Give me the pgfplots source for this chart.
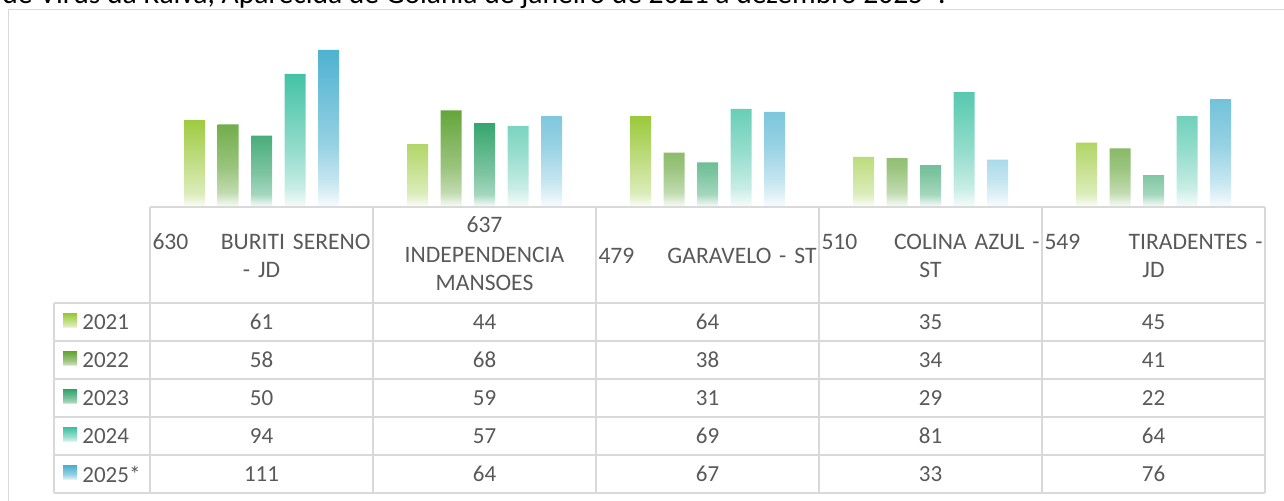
\documentclass[border=0pt]{standalone}
\usepackage{pgfplots}
\usepackage{pgfplotstable}
\pgfplotsset{compat=1.18}
\usepackage{fontspec}
\setmainfont{Carlito}
\definecolor{cA}{HTML}{9BC93A}
\definecolor{cB}{HTML}{65A53A}
\definecolor{cC}{HTML}{37A56E}
\definecolor{cD}{HTML}{43C2A5}
\definecolor{cE}{HTML}{4EB2D0}
\definecolor{gridc}{HTML}{D9D9D9}
\definecolor{txt}{HTML}{595959}
\pgfdeclareverticalshading{shA}{100bp}{color(0bp)=(cA!5); color(25bp)=(cA!5); color(32bp)=(cA!35); color(45bp)=(cA!55); color(75bp)=(cA); color(100bp)=(cA)}
\pgfdeclareverticalshading{shB}{100bp}{color(0bp)=(cB!5); color(25bp)=(cB!5); color(32bp)=(cB!40); color(45bp)=(cB!65); color(75bp)=(cB); color(100bp)=(cB)}
\pgfdeclareverticalshading{shC}{100bp}{color(0bp)=(cC!5); color(25bp)=(cC!5); color(32bp)=(cC!45); color(45bp)=(cC!65); color(75bp)=(cC); color(100bp)=(cC)}
\pgfdeclareverticalshading{shD}{100bp}{color(0bp)=(cD!5); color(25bp)=(cD!5); color(32bp)=(cD!30); color(45bp)=(cD!55); color(75bp)=(cD); color(100bp)=(cD)}
\pgfdeclareverticalshading{shE}{100bp}{color(0bp)=(cE!5); color(25bp)=(cE!5); color(32bp)=(cE!30); color(45bp)=(cE!60); color(75bp)=(cE); color(100bp)=(cE)}
\pgfplotstableread{
x y2021 y2022 y2023 y2024 y2025
0 61 58 50 94 111
1 44 68 59 57 64
2 64 38 31 69 67
3 35 34 29 81 33
4 45 41 22 64 76
}\data
\newcommand{\fl}[2]{\makebox[109pt]{#1\hfill #2}}
\begin{document}
\begin{tikzpicture}[x=0.5pt,y=-0.5pt]
\useasboundingbox (0,0) rectangle (1284,501);
% title (cut off at top)
\node[anchor=base west, inner sep=0, font=\fontsize{14.8}{17}\selectfont, text=black] at (2,3.5) {de Vírus da Raiva, Aparecida de Goiânia de janeiro de 2021 a dezembro 2025*.};
% outer frame
\draw[gridc, line width=0.75pt] (8.5,9.5) rectangle (1320,540);
\coordinate (O) at (150,206);
\begin{axis}[at={(O)}, anchor=south west, scale only axis,
  width=557.5pt, height=84.36pt, xmin=-0.5, xmax=4.5, ymin=0, ymax=120,
  axis lines=none, ticks=none, clip=false,
  ybar=6.25pt, bar width=10.5pt]
\addplot[draw=none, shading=shA] table[x=x, y=y2021] {\data};
\addplot[draw=none, shading=shB] table[x=x, y=y2022] {\data};
\addplot[draw=none, shading=shC] table[x=x, y=y2023] {\data};
\addplot[draw=none, shading=shD] table[x=x, y=y2024] {\data};
\addplot[draw=none, shading=shE] table[x=x, y=y2025] {\data};
\end{axis}
% data table grid
\begin{scope}[gridc, line width=1pt]
\draw (150,207) -- (1265,207);
\foreach \yy in {303,341,379,417,455,493} \draw (54,\yy) -- (1265,\yy);
\draw (54,303) -- (54,493);
\foreach \xx in {150,373,596,819,1042,1265} \draw (\xx,207) -- (\xx,493);
\end{scope}
% header labels
\begin{scope}[every node/.style={text width=109pt, align=center, inner sep=0pt, text=txt, font=\fontsize{11.8}{14}\selectfont}]
\node at (261.5,256) {\fl{630}{BURITI SERENO}\\- JD};
\node at (484.5,254) {637\\[1pt]INDEPENDENCIA\\MANSOES};
\node at (707.5,256) {\fl{479}{GARAVELO - ST}};
\node at (930.5,256) {\fl{510}{COLINA AZUL -}\\ST};
\node at (1153.5,256) {\fl{549}{TIRADENTES -}\\JD};
\end{scope}
% row labels with legend keys
\foreach \r/\lab/\sh in {0/2021/shA,1/2022/shB,2/2023/shC,3/2024/shD,4/2025*/shE}{
  \shade[shading=\sh] (63,{314+38*\r}) rectangle (77,{328+38*\r});
  \node[anchor=west, inner sep=0, text=txt, font=\fontsize{11.5}{14}\selectfont] at (82,{322+38*\r}) {\lab};
}
% values
\foreach \r/\col in {0/y2021,1/y2022,2/y2023,3/y2024,4/y2025}{
  \foreach \c in {0,...,4}{
    \pgfplotstablegetelem{\c}{\col}\of\data
    \node[inner sep=0, text=txt, font=\fontsize{11.5}{14}\selectfont] at ({261.5+223*\c},{322+38*\r}) {\pgfplotsretval};
  }
}
\end{tikzpicture}
\end{document}
